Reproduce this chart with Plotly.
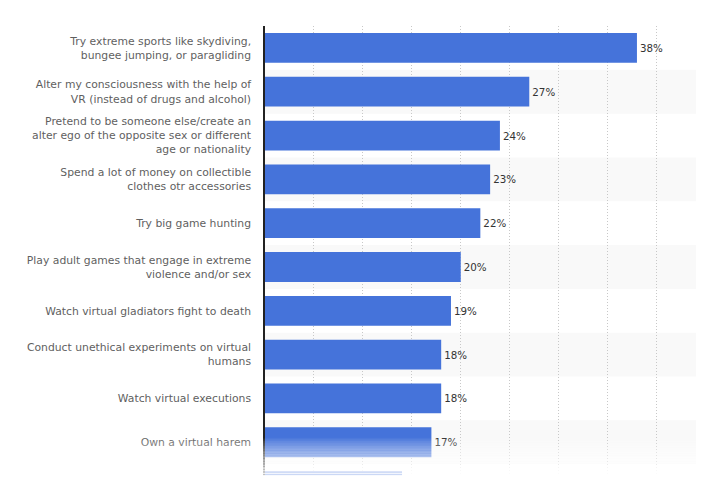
import plotly.graph_objects as go

categories = [
    "Try extreme sports like skydiving,<br>bungee jumping, or paragliding",
    "Alter my consciousness with the help of<br>VR (instead of drugs and alcohol)",
    "Pretend to be someone else/create an<br>alter ego of the opposite sex or different<br>age or nationality",
    "Spend a lot of money on collectible<br>clothes otr accessories",
    "Try big game hunting",
    "Play adult games that engage in extreme<br>violence and/or sex",
    "Watch virtual gladiators fight to death",
    "Conduct unethical experiments on virtual<br>humans",
    "Watch virtual executions",
    "Own a virtual harem",
    "Other (cut off)",
]
values = [38, 27, 24, 23, 22, 20, 19, 18, 18, 17, 14]

BAR = "#4573DA"
FONT = "DejaVu Sans"

fig = go.Figure()
fig.add_trace(go.Bar(
    y=categories, x=values, orientation="h",
    marker=dict(color=BAR, line=dict(width=0)),
    text=[f"{v}%" for v in values], textposition="outside",
    textfont=dict(family=FONT, size=10.3, color="#333333"),
    cliponaxis=False, hoverinfo="skip",
))

shapes = []
# alternating row stripes
for i in range(len(categories)):
    if i % 2 == 1:
        shapes.append(dict(type="rect", xref="paper", yref="y", x0=0, x1=1,
                           y0=i - 0.5, y1=i + 0.5, fillcolor="#f9f9f9",
                           line=dict(width=0), layer="below"))
# bottom fade overlay
N = 24
top = 0.085
for k in range(N):
    h = top / N
    frac = (k + 0.5) / N
    op = 0.98 * (1 - frac) ** 0.8
    shapes.append(dict(type="rect", xref="paper", yref="paper", x0=-0.65, x1=1.0,
                       y0=k * h, y1=(k + 1) * h, fillcolor="white", opacity=op,
                       line=dict(width=0), layer="above"))

fig.update_layout(
    width=696, height=477,
    margin=dict(l=257, r=0, t=18, b=9),
    paper_bgcolor="white", plot_bgcolor="white",
    showlegend=False, bargap=0.32,
    shapes=shapes,
    font=dict(family=FONT, size=10, color="#666666"),
    xaxis=dict(range=[0, 44.85], dtick=5, showticklabels=False, showgrid=True,
               gridcolor="#c8c8c8", griddash="1px,2px", gridwidth=1, zeroline=False,
               showline=False, fixedrange=True),
    yaxis=dict(type="category", categoryarray=categories, range=[9.77, -0.5],
               showline=True, linecolor="#222222", linewidth=1.5,
               ticks="outside", ticklen=10, tickcolor="rgba(0,0,0,0)",
               tickfont=dict(family=FONT, size=10.8, color="#5f5f5f"),
               showgrid=False, zeroline=False, fixedrange=True),
)

fig.write_html("out.html")
